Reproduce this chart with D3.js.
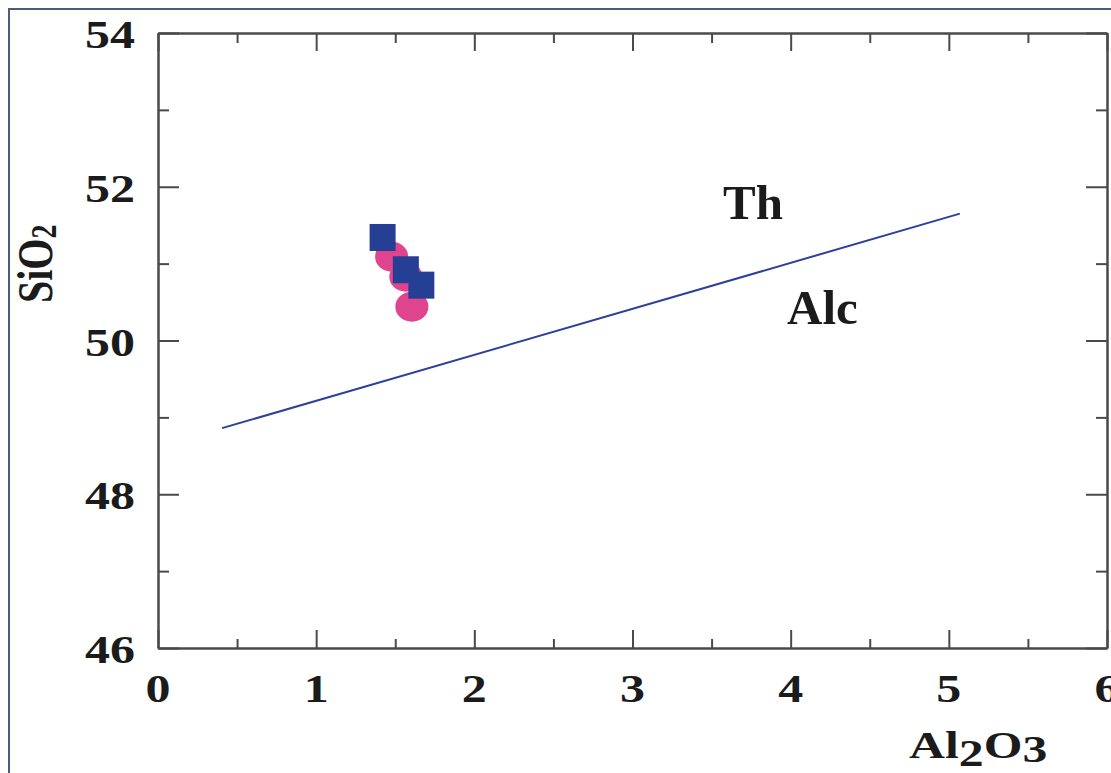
<!DOCTYPE html>
<html>
<head>
<meta charset="utf-8">
<script src="https://cdn.jsdelivr.net/npm/d3@7/dist/d3.min.js"></script>
<style>
  html, body { margin: 0; padding: 0; background: #ffffff; overflow: hidden; }
  svg { display: block; }
</style>
</head>
<body>
<svg id="chart" width="1111" height="773"></svg>
<script>
// ---- data ----
const xTickValues = [0, 1, 2, 3, 4, 5, 6];
const xTickLabels = ["0", "1", "2", "3", "4", "5", "6"];
const yTickValues = [46, 48, 50, 52, 54];
const yTickLabels = ["46", "48", "50", "52", "54"];
const xMinorTicks = [0.5, 1.5, 2.5, 3.5, 4.5, 5.5];
const yMinorTicks = [47, 49, 51, 53];

const circleAl2O3 = [1.477, 1.567, 1.605];
const circleSiO2  = [51.09, 50.83, 50.44];
const squareAl2O3 = [1.42, 1.567, 1.665];
const squareSiO2  = [51.34, 50.92, 50.72];

const dividerAl2O3 = [0.405, 5.07];
const dividerSiO2  = [48.86, 51.65];

const fieldLabels = ["Th", "Alc"];
const fieldLabelX = [3.572, 3.977];
const fieldLabelY = [51.58, 50.215];

// ---- setup ----
const svg = d3.select("#chart");
const mLeft = 158, mRight = 1107, mTop = 33, mBottom = 648;
const x = d3.scaleLinear().domain([0, 6]).range([mLeft, mRight]);
const y = d3.scaleLinear().domain([46, 54]).range([mBottom, mTop]);

const axisColor = "#4a4a4a";
const textColor = "#1b1b1b";
const serif = "'Times New Roman', 'Liberation Serif', Tinos, 'Nimbus Roman', Times, serif";
const stretch = 1.25;

// outer frame
svg.append("rect")
  .attr("x", 9).attr("y", 9).attr("width", 1300).attr("height", 1000)
  .attr("fill", "none").attr("stroke", "#4b5c7a").attr("stroke-width", 2);

function styleAxis(g) {
  g.selectAll("path.domain").attr("stroke", axisColor).attr("stroke-width", 2);
  g.selectAll(".tick line").attr("stroke", axisColor).attr("stroke-width", 2);
  g.selectAll(".tick text").remove();
}

// bottom axis
svg.append("g").attr("transform", `translate(0,${mBottom})`)
  .call(d3.axisBottom(x).tickValues(xTickValues).tickSizeInner(-18).tickSizeOuter(0).tickFormat(""))
  .call(styleAxis);
svg.append("g").attr("transform", `translate(0,${mBottom})`)
  .call(d3.axisBottom(x).tickValues(xMinorTicks).tickSizeInner(-9).tickSizeOuter(0).tickFormat(""))
  .call(styleAxis);
// top axis
svg.append("g").attr("transform", `translate(0,${mTop})`)
  .call(d3.axisTop(x).tickValues(xTickValues).tickSizeInner(-18).tickSizeOuter(0).tickFormat(""))
  .call(styleAxis);
svg.append("g").attr("transform", `translate(0,${mTop})`)
  .call(d3.axisTop(x).tickValues(xMinorTicks).tickSizeInner(-10).tickSizeOuter(0).tickFormat(""))
  .call(styleAxis);
// left axis
svg.append("g").attr("transform", `translate(${mLeft},0)`)
  .call(d3.axisLeft(y).tickValues(yTickValues).tickSizeInner(-21).tickSizeOuter(0).tickFormat(""))
  .call(styleAxis);
svg.append("g").attr("transform", `translate(${mLeft},0)`)
  .call(d3.axisLeft(y).tickValues(yMinorTicks).tickSizeInner(-11).tickSizeOuter(0).tickFormat(""))
  .call(styleAxis);
// right axis
svg.append("g").attr("transform", `translate(${mRight},0)`)
  .call(d3.axisRight(y).tickValues(yTickValues).tickSizeInner(-21).tickSizeOuter(0).tickFormat(""))
  .call(styleAxis);
svg.append("g").attr("transform", `translate(${mRight},0)`)
  .call(d3.axisRight(y).tickValues(yMinorTicks).tickSizeInner(-11).tickSizeOuter(0).tickFormat(""))
  .call(styleAxis);

// tick labels (stretched horizontally like the reference)
svg.append("g").selectAll("text").data(xTickValues).join("text")
  .attr("transform", d => `translate(${x(d)},702) scale(${stretch},1)`)
  .attr("text-anchor", "middle")
  .attr("font-family", serif).attr("font-weight", "bold").attr("font-size", 40)
  .attr("fill", textColor)
  .text((d, i) => xTickLabels[i]);

svg.append("g").selectAll("text").data(yTickValues).join("text")
  .attr("transform", d => `translate(135,${y(d) + 15}) scale(${stretch},1)`)
  .attr("text-anchor", "end")
  .attr("font-family", serif).attr("font-weight", "bold").attr("font-size", 40)
  .attr("fill", textColor)
  .text((d, i) => yTickLabels[i]);

// axis titles
const xt = svg.append("text")
  .attr("transform", `translate(909,758) scale(1.31,1)`)
  .attr("font-family", serif).attr("font-weight", "bold").attr("font-size", 38)
  .attr("fill", textColor);
xt.append("tspan").text("Al");
xt.append("tspan").attr("dy", 8).text("2");
xt.append("tspan").attr("dy", -8).text("O");
xt.append("tspan").attr("dy", 4).text("3");

const yt = svg.append("text")
  .attr("transform", `translate(52,303) scale(${stretch},1) rotate(-90)`)
  .attr("font-family", serif).attr("font-weight", "bold").attr("font-size", 40)
  .attr("fill", textColor);
yt.append("tspan").text("SiO");
yt.append("tspan").attr("dy", 3).attr("font-size", 28).text("2");

// divider line
const line = d3.line().x(d => x(d[0])).y(d => y(d[1]));
svg.append("path")
  .datum(dividerAl2O3.map((v, i) => [v, dividerSiO2[i]]))
  .attr("d", line)
  .attr("fill", "none").attr("stroke", "#2d409c").attr("stroke-width", 2);

// field labels
svg.append("g").selectAll("text").data(fieldLabels).join("text")
  .attr("x", (d, i) => x(fieldLabelX[i]))
  .attr("y", (d, i) => y(fieldLabelY[i]))
  .attr("font-family", serif).attr("font-weight", "bold").attr("font-size", 49)
  .attr("fill", textColor)
  .text(d => d);

// circles (pink)
svg.append("g").selectAll("ellipse")
  .data(circleAl2O3.map((v, i) => [v, circleSiO2[i]]))
  .join("ellipse")
  .attr("cx", d => x(d[0])).attr("cy", d => y(d[1]))
  .attr("rx", 16.5).attr("ry", 15)
  .attr("fill", "#df458f");

// squares (blue)
svg.append("g").selectAll("rect")
  .data(squareAl2O3.map((v, i) => [v, squareSiO2[i]]))
  .join("rect")
  .attr("x", d => x(d[0]) - 13).attr("y", d => y(d[1]) - 13.5)
  .attr("width", 26).attr("height", 27)
  .attr("fill", "#253f95");
</script>
</body>
</html>
